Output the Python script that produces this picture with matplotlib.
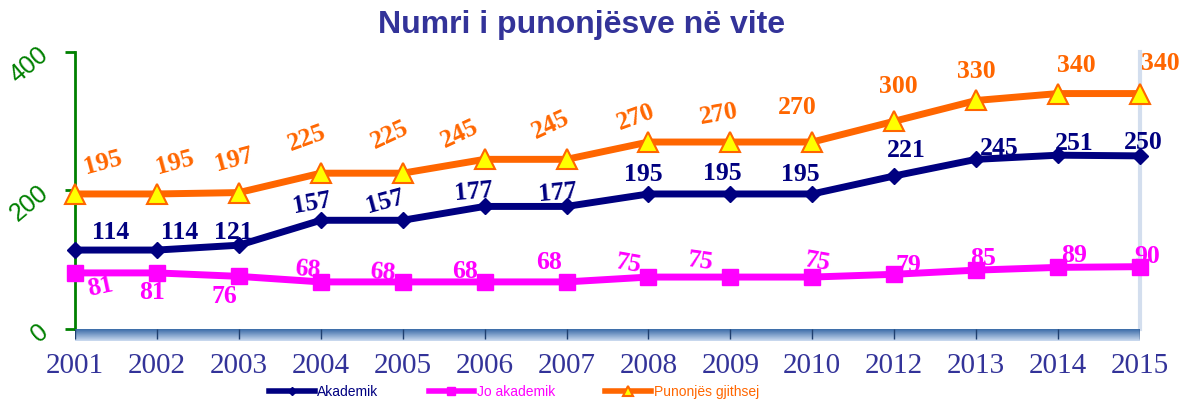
import matplotlib.pyplot as plt
import numpy as np

# data
years = ['2001', '2002', '2003', '2004', '2005', '2006', '2007',
         '2008', '2009', '2010', '2012', '2013', '2014', '2015']
akademik = [114, 114, 121, 157, 157, 177, 177, 195, 195, 195, 221, 245, 251, 250]
jo_akademik = [81, 81, 76, 68, 68, 68, 68, 75, 75, 75, 79, 85, 89, 90]
gjithsej = [195, 195, 197, 225, 225, 245, 245, 270, 270, 270, 300, 330, 340, 340]

# label placement (offset in pixels, rotation in degrees)
off_ak = [(36, 18), (23, 18), (-5, 13), (-9, 17), (-18, 19), (-11, 15), (-9, 14),
          (-5, 19), (-8, 20), (-12, 19), (12, 25), (23, 11), (16, 12), (3, 13)]
rot_ak = [0, 0, 0, 10, 15, 5, 5, 0, 0, 0, 0, 0, 0, 0]
off_jo = [(25, -14), (-5, -20), (-14, -20), (-13, 12), (-20, 9), (-20, 10), (-17, 19),
          (-20, 13), (-30, 16), (5, 15), (14, 9), (7, 12), (16, 12), (7, 10)]
rot_jo = [12, 0, 0, -5, -5, 0, 0, -10, -8, -10, 0, 0, 0, 0]
off_gj = [(28, 31), (18, 31), (-5, 33), (-14, 35), (-13, 38), (-25, 25), (-16, 34),
          (-13, 25), (-12, 28), (-15, 35), (4, 35), (0, 29), (18, 28), (20, 30)]
rot_gj = [15, 15, 15, 20, 25, 25, 25, 20, 10, 0, 0, 0, 0, 0]

navy = '#000080'
magenta = '#FF00FF'
orange = '#FF6600'
title_col = '#333399'
green = '#008000'

fig = plt.figure(figsize=(11.89, 4.04), dpi=100)
ax = fig.add_axes([75 / 1189, 75 / 404, 1065 / 1189, 277 / 404])
x = np.arange(len(years))

ax.plot(x, akademik, color=navy, lw=5, marker='D', ms=8, clip_on=False,
        zorder=3, label='Akademik')
ax.plot(x, jo_akademik, color=magenta, lw=5, marker='s', ms=12, clip_on=False,
        zorder=3, label='Jo akademik')
ax.plot(x, gjithsej, color=orange, lw=5, marker='^', ms=14, mfc='#FFFF00',
        mec=orange, mew=1.5, clip_on=False, zorder=3, label='Punonjës gjithsej')

lab_font = dict(family='Liberation Serif', weight='bold', size=18.5)
for i in range(len(x)):
    ax.annotate(str(akademik[i]), (x[i], akademik[i]), xytext=off_ak[i],
                textcoords='offset pixels', ha='center', va='center',
                color=navy, rotation=rot_ak[i], zorder=5, **lab_font)
    ax.annotate(str(jo_akademik[i]), (x[i], jo_akademik[i]), xytext=off_jo[i],
                textcoords='offset pixels', ha='center', va='center',
                color=magenta, rotation=rot_jo[i], zorder=5, **lab_font)
    ax.annotate(str(gjithsej[i]), (x[i], gjithsej[i]), xytext=off_gj[i],
                textcoords='offset pixels', ha='center', va='center',
                color=orange, rotation=rot_gj[i], zorder=5, **lab_font)

ax.set_xlim(0, len(years) - 1)
ax.set_ylim(0, 400)
ax.set_yticks([0, 200, 400])
ax.set_xticks(x)
ax.set_xticklabels(years, family='Liberation Serif', size=21, color=title_col)
ax.tick_params(axis='x', length=0, pad=17)
ax.tick_params(axis='y', colors=green, length=7, width=2, pad=9,
               labelsize=18, labelrotation=40)
for t in ax.get_yticklabels():
    t.set_family('Liberation Sans')
ax.spines['left'].set_color(green)
ax.spines['left'].set_linewidth(2)
ax.spines['top'].set_visible(False)
ax.spines['bottom'].set_visible(False)
ax.spines['right'].set_color('#D3DEEE')
ax.spines['right'].set_linewidth(3)

# floor band under the plot
floor = fig.add_axes([75 / 1189, 63 / 404, 1065 / 1189, 12 / 404])
grad = np.linspace(0, 1, 50).reshape(-1, 1)
c1 = np.array([0.23, 0.42, 0.66])
c2 = np.array([0.80, 0.86, 0.94])
img = c1 + (c2 - c1) * grad[:, :, None]
floor.imshow(img, aspect='auto', extent=[0, len(years) - 1, 0, 1])
floor.vlines(x, 0.2, 1, color='#1F3F6F', lw=1)
floor.set_xlim(0, len(years) - 1)
floor.axis('off')

fig.text(582 / 1189, 1 - 25 / 404, 'Numri i punonjësve në vite', ha='center',
         va='center', family='Liberation Sans', weight='bold', size=23,
         color=title_col)

leg = fig.legend(loc='center', bbox_to_anchor=(514 / 1189, 0.03), ncol=3,
                 frameon=False, prop={'family': 'Liberation Sans', 'size': 10},
                 handlelength=3.3, columnspacing=3.6, markerscale=0.5,
                 handletextpad=0.2, labelcolor='linecolor')
for h in leg.get_lines():
    h.set_linewidth(4)

fig.savefig('out.png', dpi=100)
